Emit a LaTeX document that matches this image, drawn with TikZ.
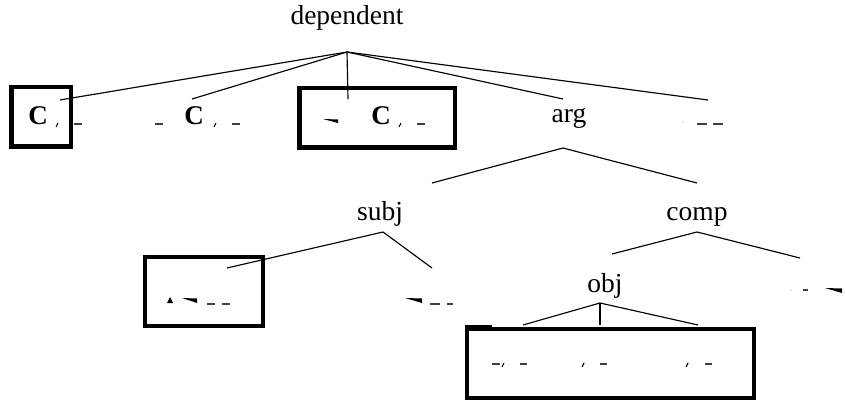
\documentclass[tikz,border=0pt]{standalone}
\usepackage{fontspec}
\setmainfont{Liberation Serif}
\begin{document}
\begin{tikzpicture}[x=1pt,y=-1pt,
  treelab/.style={font=\fontsize{27.5}{30}\selectfont, anchor=base, inner sep=0pt},
  bigc/.style={font=\fontsize{27}{29}\selectfont\bfseries, anchor=base, inner sep=0pt},
  treeedge/.style={line width=1.15pt},
  boxframe/.style={draw, line width=4.5pt, inner sep=0pt},
  boxframeb/.style={draw, line width=4pt, inner sep=0pt},
  dashmark/.style={line width=1.2pt, black!75},
  commamark/.style={line width=1.1pt}]
\useasboundingbox (0,0) rectangle (845,403);

% labels
\node[treelab] (dep) at (347,25) {dependent};
\node[treelab] (arg) at (569,123) {arg};
\node[treelab] (subj) at (380,221) {subj};
\node[treelab] (comp) at (697,221) {comp};
\node[treelab] (obj) at (605,292) {obj};

% apex points
\coordinate (depA) at (347,52);
\coordinate (argA) at (563,148);
\coordinate (subjA) at (383,232);
\coordinate (compA) at (697,232);
\coordinate (objA) at (600,303);

% child attachment points
\coordinate (l1) at (60,100);
\coordinate (l2) at (192,99);
\coordinate (l3) at (348,99);
\coordinate (l4) at (563,99);
\coordinate (l5) at (708,100);
\coordinate (a1) at (432,183);
\coordinate (a2) at (697,183);
\coordinate (s1) at (227,268);
\coordinate (s2) at (432,268);
\coordinate (c1) at (612,254);
\coordinate (c2) at (800,258);
\coordinate (o1) at (523,325);
\coordinate (o2) at (600,325);
\coordinate (o3) at (698,325);

% boxes
\node[boxframe, minimum width=59.5pt, minimum height=59.5pt] (box1) at (41,117) {};
\node[boxframe, minimum width=155.5pt, minimum height=59.5pt] (box3) at (377,118) {};
\node[boxframeb, minimum width=118pt, minimum height=69pt] (boxs) at (204,291.5) {};
\node[boxframeb, minimum width=287pt, minimum height=69pt] (boxo) at (610.5,363.5) {};
\fill (465,325) rectangle (492,331);

% edges
\foreach \c in {l1,l2,l3,l4,l5} \draw[treeedge] (depA) -- (\c);
\draw[treeedge] (argA) -- (a1);
\draw[treeedge] (argA) -- (a2);
\draw[treeedge] (subjA) -- (s1);
\draw[treeedge] (subjA) -- (s2);
\draw[treeedge] (compA) -- (c1);
\draw[treeedge] (compA) -- (c2);
\draw[treeedge] (objA) -- (o1);
\draw[treeedge] (objA) -- (o2);
\draw[treeedge] (objA) -- (o3);

% leaf 1
\node[bigc] (c1t) at (38,125) {C};
\draw[commamark] (58,123) -- (56,127);
\draw[dashmark] (74,124) -- (82,124);
% leaf 2
\draw[dashmark] (155,124) -- (163,124);
\node[bigc] (c2t) at (194,125) {C};
\draw[commamark] (216,123) -- (214,127);
\draw[dashmark] (232,124) -- (240,124);
% leaf 3
\fill (323,119) -- (338,119.5) -- (338,123) -- cycle;
\node[bigc] (c3t) at (381,125) {C};
\draw[commamark] (401,123) -- (399,127);
\draw[dashmark] (417,124) -- (425,124);
% leaf 5
\fill[black!40] (683,122) circle (0.7);
\draw[dashmark] (697,124) -- (707,124);
\draw[dashmark] (713,124) -- (723,124);
% subj leaves
\fill (167,303) -- (170,297) -- (173,303) -- cycle;
\fill (182,298) -- (197,298.5) -- (197,303) -- cycle;
\draw[dashmark] (207,304) -- (215,304);
\draw[dashmark] (222,304) -- (230,304);
\fill (405,298) -- (422,298.5) -- (422,303) -- cycle;
\draw[dashmark] (430,304) -- (440,304);
\draw[dashmark] (447,304) -- (453,304);
% obj leaves
\draw[dashmark] (492,364) -- (500,364);
\draw[commamark] (504,363) -- (502,367);
\draw[dashmark] (520,364) -- (527,364);
\draw[commamark] (584,363) -- (582,367);
\draw[dashmark] (600,364) -- (607,364);
\draw[commamark] (688,363) -- (686,367);
\draw[dashmark] (705,364) -- (712,364);
% comp right leaf
\fill[black!40] (791,290) circle (0.7);
\draw[dashmark] (803,290) -- (808,290);
\fill (825,288) -- (842,288.5) -- (842,293) -- cycle;
\end{tikzpicture}
\end{document}
